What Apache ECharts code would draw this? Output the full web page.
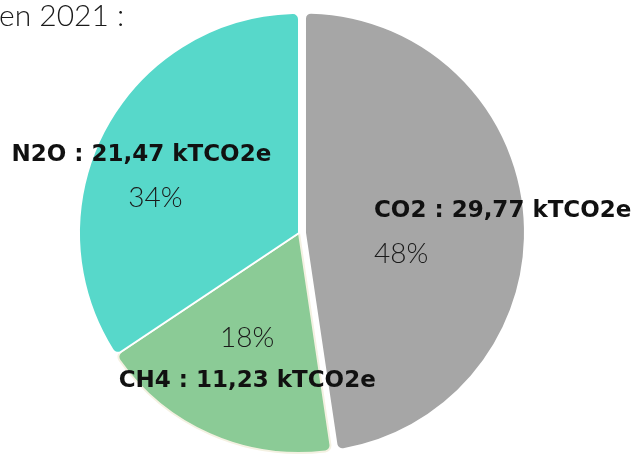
<!DOCTYPE html>
<html>
<head>
<meta charset="utf-8">
<script src="https://cdn.jsdelivr.net/npm/echarts@6/dist/echarts.min.js"></script>
<style>
  html, body { margin: 0; padding: 0; background: #fff; }
  #chart { width: 632px; height: 455px; }
</style>
</head>
<body>
<div id="chart"></div>
<script>
// Emissions by gas in 2021 (kTCO2e)
const gases = ['CO2', 'CH4', 'N2O'];
const emissions = [29.77, 11.23, 21.47];
const colors = ['#A6A6A6', '#8BCB96', '#57D8CA'];
const unit = 'kTCO2e';

const chart = echarts.init(document.getElementById('chart'));

// label placement per slice (name above or below the percentage)
const labelSetup = [
    { offset: [91, 8], pct: 'pl', nameFirst: true },
    { offset: [-6, 23], pct: 'p', nameFirst: false },
    { offset: [-58, -3], pct: 'pn', nameFirst: true }
];

const fmtValue = v => v.toFixed(2).replace('.', ',');

const pieBase = {
    type: 'pie',
    center: [299, 233],
    radius: 220,
    startAngle: 90,
    silent: true,
    animation: false
};

const pctStyle = {
    fontFamily: 'Lato',
    fontWeight: 300,
    fontSize: 28,
    color: '#1a1a1a',
    lineHeight: 43
};

const option = {
    title: {
        text: 'en 2021 :',
        left: -1,
        top: 1,
        padding: 0,
        textStyle: {
            fontFamily: 'Lato',
            fontWeight: 300,
            fontSize: 30,
            color: '#1a1a1a'
        }
    },
    series: [
        // the slices, CO2 pulled out a little
        Object.assign({}, pieBase, {
            selectedMode: 'single',
            selectedOffset: 6,
            itemStyle: {
                borderWidth: 2,
                borderRadius: 6
            },
            label: { show: false },
            labelLine: { show: false },
            data: gases.map((g, i) => ({
                name: g,
                value: emissions[i],
                selected: i === 0,
                itemStyle: {
                    color: colors[i],
                    borderColor: i === 1 ? '#F4F1E2' : '#fff'
                }
            }))
        }),
        // same pie, transparent, only to carry the labels above every slice
        Object.assign({}, pieBase, {
            z: 5,
            itemStyle: { color: 'rgba(0,0,0,0)', borderWidth: 0 },
            label: {
                show: true,
                position: 'inside',
                formatter: p => {
                    const s = labelSetup[p.dataIndex];
                    const nameLine = '{n|' + p.name + ' : ' + fmtValue(p.value) + ' ' + unit + '}';
                    const pctLine = '{' + s.pct + '|' + Math.round(p.percent) + '%}';
                    return s.nameFirst ? nameLine + '\n' + pctLine : pctLine + '\n' + nameLine;
                },
                rich: {
                    n: {
                        fontFamily: 'DejaVu Sans',
                        fontWeight: 'bold',
                        fontSize: 23,
                        color: '#111',
                        lineHeight: 43
                    },
                    p: pctStyle,
                    pl: Object.assign({}, pctStyle, { align: 'left' }),
                    pn: Object.assign({}, pctStyle, { padding: [0, 0, 0, 28] })
                }
            },
            labelLine: { show: false },
            data: gases.map((g, i) => ({
                name: g,
                value: emissions[i],
                label: { offset: labelSetup[i].offset }
            }))
        })
    ]
};

chart.setOption(option);
</script>
</body>
</html>
